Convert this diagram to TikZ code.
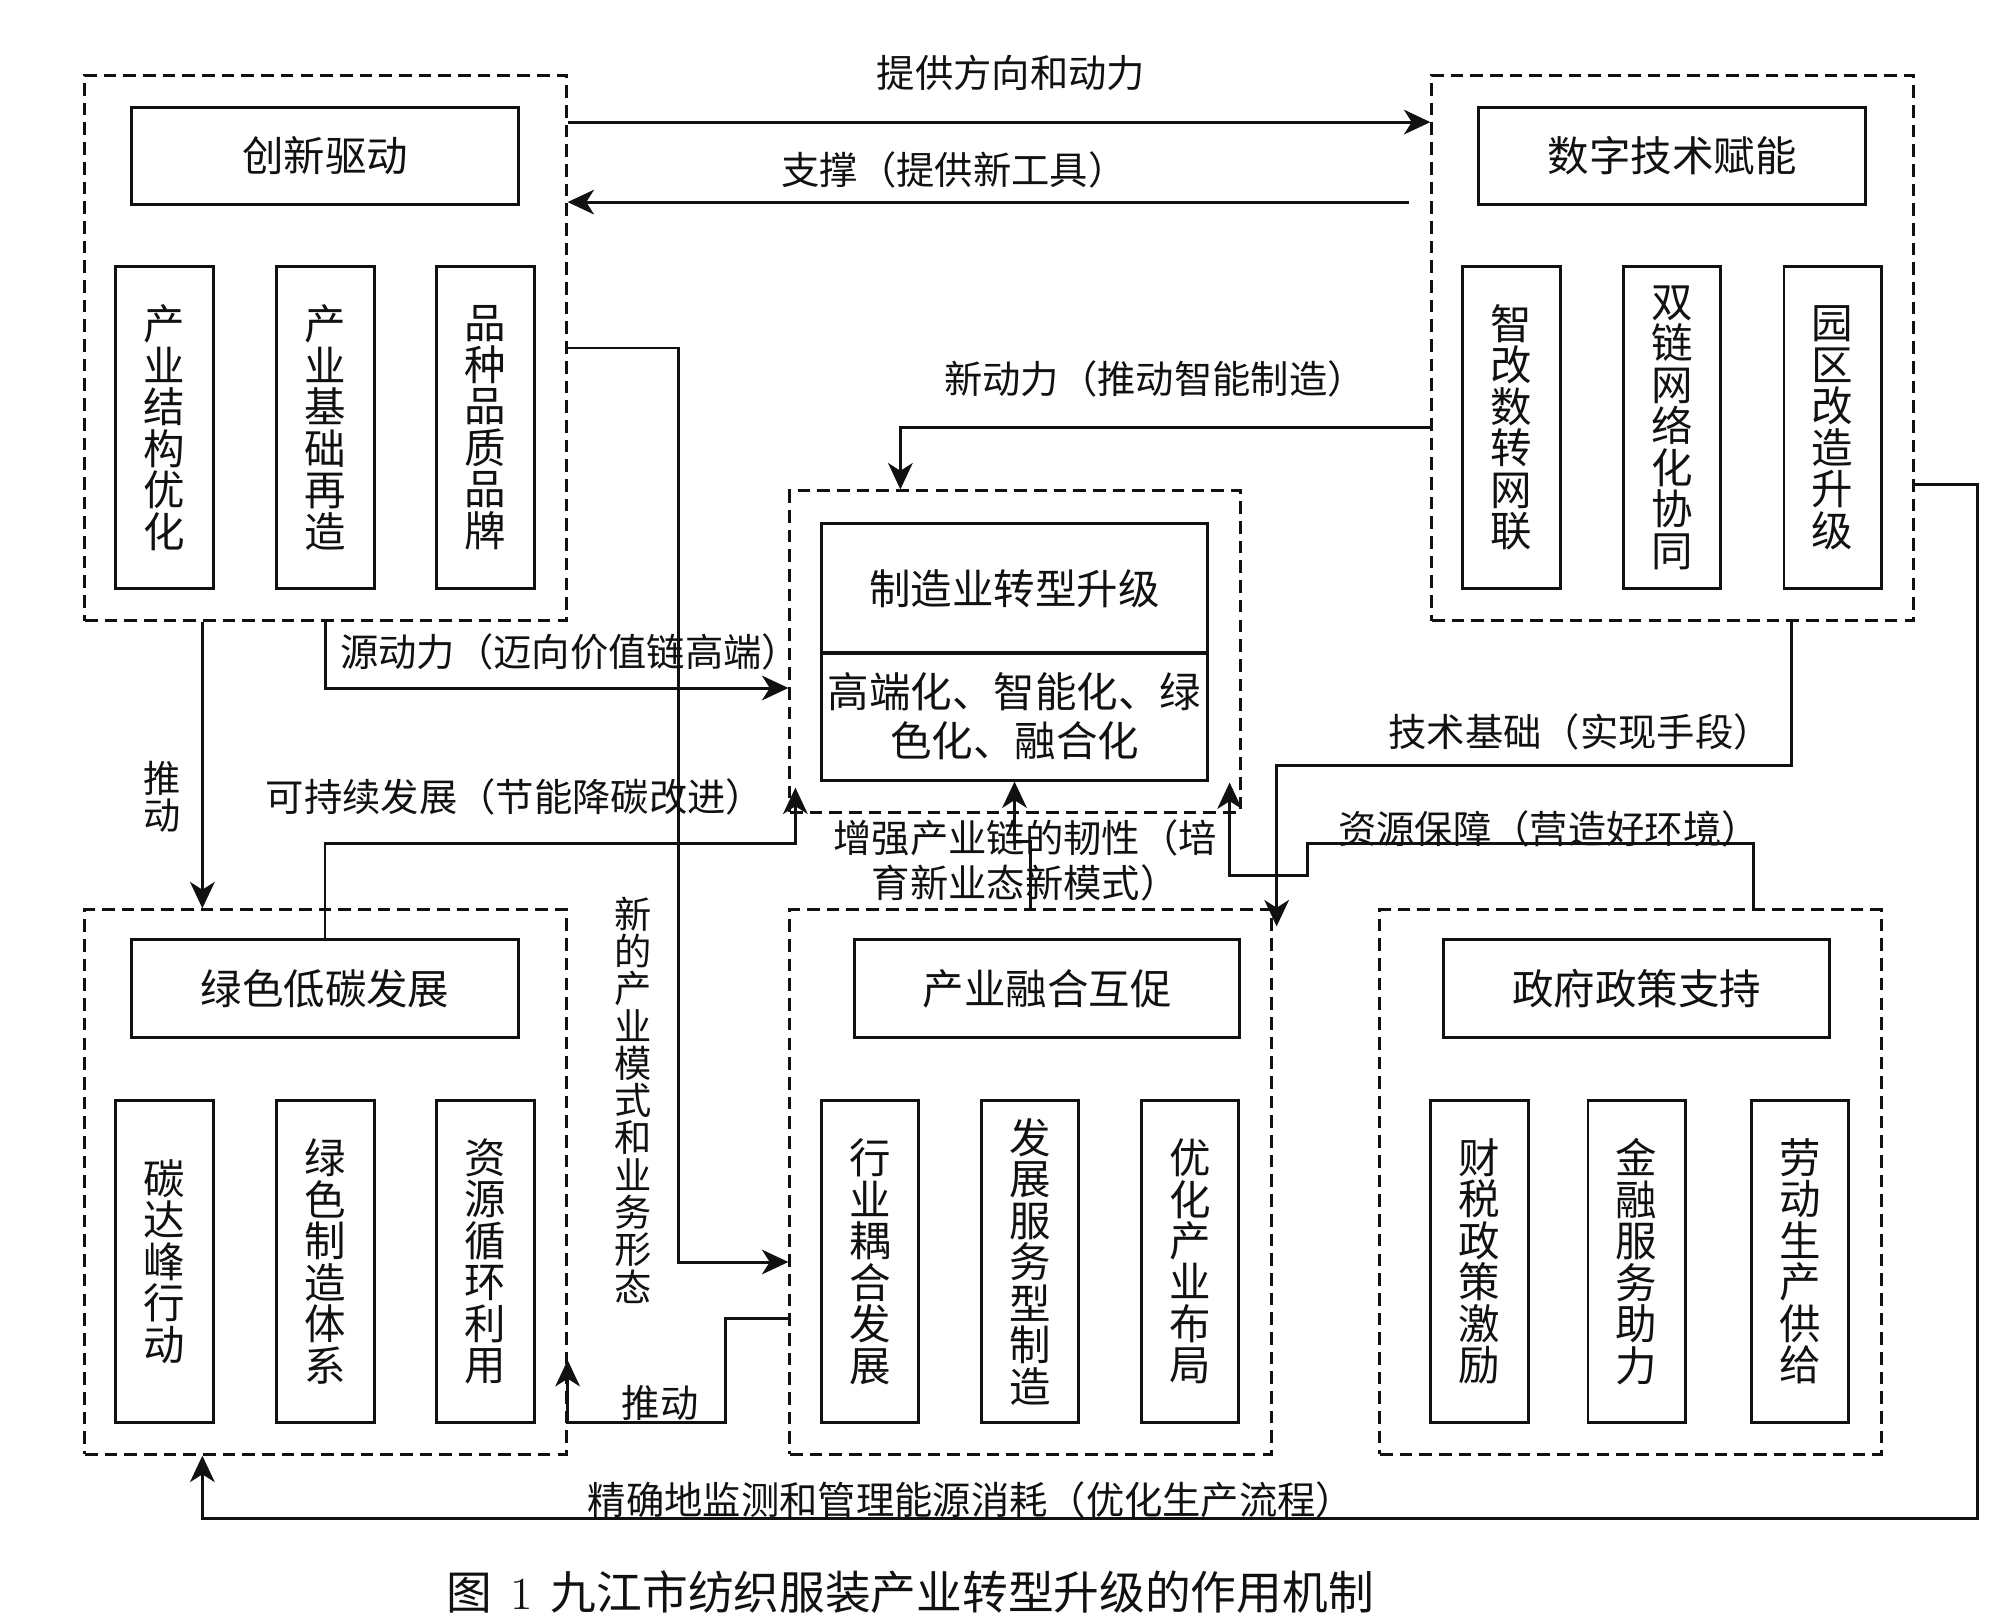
\documentclass[tikz,border=0pt]{standalone}
\usepackage{fontspec}
\newfontfamily\cjkfont{Noto Sans CJK SC}
\usetikzlibrary{arrows.meta,calc}
\definecolor{jjInk}{HTML}{111111}
\tikzset{
  jj group/.style={draw=jjInk, dash pattern=on 3.6pt off 2pt, line width=0.85pt, inner sep=0pt},
  jj title/.style={draw=jjInk, line width=0.85pt, minimum width=3.86cm, minimum height=0.97cm, inner sep=0pt, font=\cjkfont\fontsize{11.8pt}{12.4pt}\selectfont, text=jjInk},
  jj item/.style={draw=jjInk, line width=0.85pt, minimum width=0.97cm, minimum height=3.21cm, inner sep=0pt, align=center, font=\cjkfont\fontsize{11.8pt}{11.8pt}\selectfont, text=jjInk},
  jj core/.style={draw=jjInk, line width=0.85pt, minimum width=3.85cm, inner sep=0pt, align=center, font=\cjkfont\fontsize{11.8pt}{14pt}\selectfont, text=jjInk},
  jj link/.style={draw=jjInk, line width=0.85pt, -{Stealth[length=7.5pt,width=7pt,inset=2.2pt]}},
  jj note/.style={font=\cjkfont\fontsize{10.9pt}{12.8pt}\selectfont, text=jjInk, inner sep=0pt, align=center},
  jj vnote/.style={font=\cjkfont\fontsize{10.6pt}{10.6pt}\selectfont, text=jjInk, inner sep=0pt, align=center},
}

\begin{document}
\begin{tikzpicture}[x=0.01cm,y=-0.01cm]
  \useasboundingbox (0,0) rectangle (2000,1621);

  % groups
  \node[jj group, minimum width=4.81cm, minimum height=5.455cm] (grpInno) at (325.5,348) {};
  \node[jj group, minimum width=4.81cm, minimum height=5.455cm] (grpDigi) at (1672.5,348) {};
  \node[jj group, minimum width=4.50cm, minimum height=3.21cm] (grpCore) at (1015,651.5) {};
  \node[jj group, minimum width=4.81cm, minimum height=5.44cm] (grpGreen) at (325.5,1182) {};
  \node[jj group, minimum width=4.81cm, minimum height=5.44cm] (grpFuse) at (1030.5,1182) {};
  \node[jj group, minimum width=5.01cm, minimum height=5.44cm] (grpPolicy) at (1630.5,1182) {};

  % titles
  \node[jj title] (ttlInno) at (325,156) {创新驱动};
  \node[jj title] (ttlDigi) at (1672,156) {数字技术赋能};
  \node[jj title] (ttlGreen) at (325,988.5) {绿色低碳发展};
  \node[jj title, minimum width=3.84cm] (ttlFuse) at (1047,988.5) {产业融合互促};
  \node[jj title, minimum width=3.85cm] (ttlPolicy) at (1636.5,988.5) {政府政策支持};

  % core
  \node[jj core, minimum height=1.29cm] (coreTop) at (1014.5,588.5) {制造业转型升级};
  \node[jj core, minimum height=1.27cm] (coreLow) at (1014.5,716.5) {高端化、智能化、绿\\色化、融合化};

  % items
  \node[jj item] (inno1) at (164.5,427.5) {产\\业\\结\\构\\优\\化};
  \node[jj item] (inno2) at (325.5,427.5) {产\\业\\基\\础\\再\\造};
  \node[jj item] (inno3) at (485.5,427.5) {品\\种\\品\\质\\品\\牌};
  \node[jj item] (digi1) at (1511.5,427.5) {智\\改\\数\\转\\网\\联};
  \node[jj item] (digi2) at (1672,427.5) {双\\链\\网\\络\\化\\协\\同};
  \node[jj item] (digi3) at (1832.5,427.5) {园\\区\\改\\造\\升\\级};
  \node[jj item] (green1) at (164.5,1261.5) {碳\\达\\峰\\行\\动};
  \node[jj item] (green2) at (325.5,1261.5) {绿\\色\\制\\造\\体\\系};
  \node[jj item] (green3) at (485.5,1261.5) {资\\源\\循\\环\\利\\用};
  \node[jj item] (fuse1) at (870,1261.5) {行\\业\\耦\\合\\发\\展};
  \node[jj item] (fuse2) at (1030,1261.5) {发\\展\\服\\务\\型\\制\\造};
  \node[jj item] (fuse3) at (1190,1261.5) {优\\化\\产\\业\\布\\局};
  \node[jj item] (policy1) at (1479.5,1261.5) {财\\税\\政\\策\\激\\励};
  \node[jj item] (policy2) at (1636.5,1261.5) {金\\融\\服\\务\\助\\力};
  \node[jj item] (policy3) at (1800,1261.5) {劳\\动\\生\\产\\供\\给};

  % connectors
  \draw[jj link] ($(grpInno.north east)+(0,48.5)$) -- ($(grpDigi.north west)+(0,48.5)$);
  \draw[jj link] ($(grpDigi.north west)+(-21,128.5)$) -- ($(grpInno.north east)+(0,128.5)$);
  \draw[jj link] (grpInno.east) -- ++(111,0) |- ($(grpFuse.west)+(0,80)$);
  \draw[jj link] (grpInno.south) |- ($(grpCore.west)+(0,36.5)$);
  \draw[jj link] ($(grpInno.south west)+(119,0)$) -- ($(grpGreen.north west)+(119,0)$);
  \draw[jj link] (ttlGreen.north) -- ++(0,-95) -| ($(grpCore.south west)+(7,-26)$);
  \draw[jj link] (grpFuse.north) -- ++(0,-67) -| (coreLow.south);
  \draw[jj link] ($(grpDigi.west)+(0,79.5)$) -| ($(grpCore.north west)+(112,0)$);
  \draw[jj link] ($(grpDigi.south west)+(361,0)$) -- ++(0,143) -| ($(grpFuse.north east)+(4,18)$);
  \draw[jj link] ($(grpPolicy.north west)+(375,0)$) -- ++(0,-65) -- ++(-446,0) -- ++(0,32) -| ($(coreLow.south east)+(21,1)$);
  \draw[jj link] ($(grpFuse.west)+(0,136)$) -- ++(-63,0) |- ($(grpGreen.east)+(0,240)$) -- ($(grpGreen.east)+(0,178)$);
  \draw[jj link] ($(grpDigi.east)+(0,136)$) -- ++(63,0) |- ($(grpGreen.south west)+(119,63)$) -- ($(grpGreen.south west)+(119,0)$);

  % labels
  \node[jj note] (lblDir) at (1011,73) {提供方向和动力};
  \node[jj note] (lblTool) at (954,170) {支撑（提供新工具）};
  \node[jj note] (lblSmart) at (1155,379) {新动力（推动智能制造）};
  \node[jj note] (lblValue) at (570,652) {源动力（迈向价值链高端）};
  \node[jj note] (lblSust) at (515,797) {可持续发展（节能降碳改进）};
  \node[jj note] (lblChain) at (1025,860) {增强产业链的韧性（培\\育新业态新模式）};
  \node[jj note] (lblTech) at (1580,732) {技术基础（实现手段）};
  \node[jj note] (lblRes) at (1549,829) {资源保障（营造好环境）};
  \node[jj vnote] (lblMode) at (633,1100) {新\\的\\产\\业\\模\\式\\和\\业\\务\\形\\态};
  \node[jj vnote] (lblPushL) at (162,797) {推\\动};
  \node[jj note] (lblPushB) at (660,1403) {推动};
  \node[jj note] (lblEnergy) at (971,1500) {精确地监测和管理能源消耗（优化生产流程）};
  \node[font=\cjkfont\fontsize{13pt}{14pt}\selectfont, text=jjInk, inner sep=0pt] (caption) at (910,1592) {图\hspace{0.4em}{\rmfamily 1}\hspace{0.4em}九江市纺织服装产业转型升级的作用机制};
\end{tikzpicture}
\end{document}
